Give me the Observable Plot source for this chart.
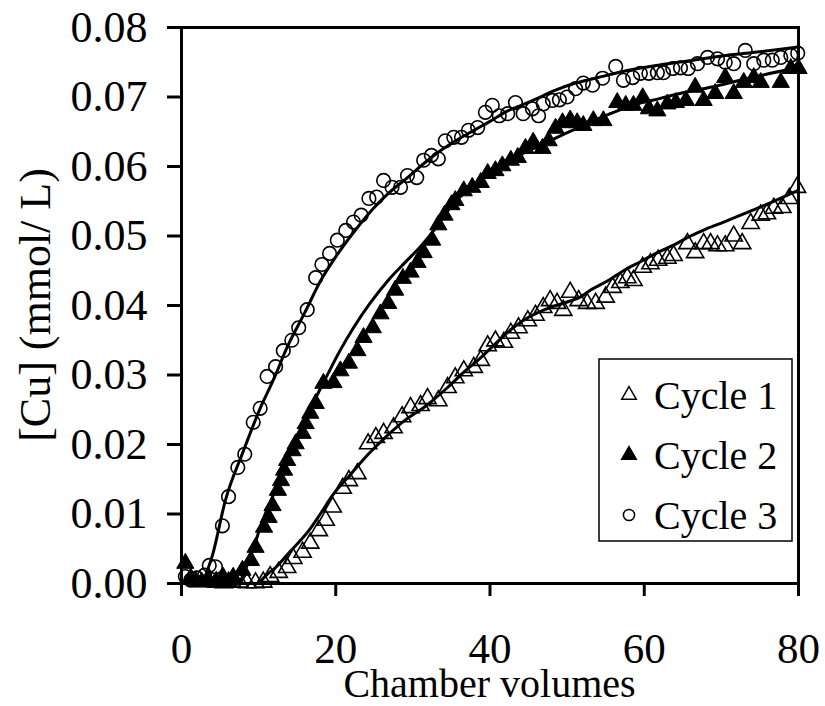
<!DOCTYPE html>
<html><head><meta charset="utf-8">
<script src="https://cdn.jsdelivr.net/npm/d3@7"></script>
<script src="https://cdn.jsdelivr.net/npm/@observablehq/plot@0.6"></script>
<style>
body{margin:0;background:#fff;}
#chart{width:825px;height:706px;}
</style>
</head><body><div id="chart"></div>
<script>
// ---- data (chamber volumes, [Cu] mmol/L) ----
const seriesNames = ["Cycle 1", "Cycle 2", "Cycle 3"];
const xTicks = [0, 20, 40, 60, 80];
const yTicks = [0, 0.01, 0.02, 0.03, 0.04, 0.05, 0.06, 0.07, 0.08];

const cycle1V = [4.5,5.5,6.5,7.5,8.5,9.6,10.6,11.5,12.6,13.7,14.5,15.7,16.7,17.8,18.7,19.6,20.9,21.7,22.8,24.2,25.2,26.2,27.5,28.6,29.7,31.0,31.9,33.3,34.5,35.5,36.6,37.9,38.8,39.7,40.7,41.8,42.7,43.7,44.9,45.9,46.9,47.8,48.7,49.5,50.4,51.5,52.6,53.7,55.0,55.9,56.9,57.8,58.6,59.8,60.8,61.8,63.0,63.8,65.6,66.6,67.7,68.6,69.5,70.5,71.6,72.7,73.8,75.1,75.9,76.8,77.9,78.8,79.8];
const cycle1C = [0.0002,0.0001,0.0003,0.0002,0.0001,0.0001,0.0002,0.0010,0.0016,0.0023,0.0036,0.0045,0.0058,0.0076,0.0091,0.0110,0.0137,0.0148,0.0158,0.0201,0.0210,0.0216,0.0224,0.0240,0.0253,0.0256,0.0266,0.0263,0.0282,0.0296,0.0306,0.0311,0.0321,0.0342,0.0349,0.0347,0.0360,0.0368,0.0378,0.0386,0.0397,0.0407,0.0403,0.0393,0.0419,0.0407,0.0403,0.0403,0.0412,0.0426,0.0433,0.0440,0.0436,0.0455,0.0460,0.0465,0.0468,0.0472,0.0489,0.0476,0.0489,0.0489,0.0486,0.0486,0.0500,0.0489,0.0518,0.0530,0.0532,0.0540,0.0541,0.0554,0.0570];

const cycle2V = [0.5,1.2,1.8,2.6,3.5,4.4,5.4,6.1,6.7,7.9,9.0,9.6,10.7,11.3,11.8,12.5,12.9,13.3,13.7,14.4,14.8,15.7,16.1,16.7,17.4,18.4,19.7,20.6,21.7,22.8,23.6,24.8,25.8,26.8,27.7,28.7,29.7,30.6,31.4,32.5,33.3,34.1,35.0,35.5,36.6,37.7,38.8,39.7,40.7,41.6,42.7,43.6,44.6,45.6,46.8,47.6,48.5,49.4,50.4,51.3,52.1,53.4,54.7,56.5,57.6,58.6,59.8,60.6,61.7,63.0,64.1,65.4,66.6,67.7,69.2,70.5,71.6,72.9,74.2,75.1,77.7,79.0,80.0];
const cycle2C = [0.0029,0.0008,0.0004,0.0002,0.0004,0.0002,0.0009,0.0003,0.0009,0.0019,0.0033,0.0052,0.0081,0.0095,0.0112,0.0134,0.0148,0.0163,0.0177,0.0191,0.0201,0.0216,0.0230,0.0245,0.0259,0.0288,0.0289,0.0306,0.0317,0.0335,0.0354,0.0368,0.0388,0.0403,0.0422,0.0439,0.0448,0.0462,0.0476,0.0494,0.0516,0.0530,0.0545,0.0551,0.0565,0.0570,0.0577,0.0590,0.0594,0.0601,0.0609,0.0613,0.0626,0.0635,0.0626,0.0637,0.0655,0.0663,0.0667,0.0663,0.0659,0.0666,0.0666,0.0692,0.0688,0.0688,0.0699,0.0683,0.0680,0.0690,0.0692,0.0695,0.0714,0.0695,0.0705,0.0728,0.0705,0.0721,0.0728,0.0721,0.0721,0.0741,0.0741];

const cycle3V = [0.5,1.2,2.0,3.0,3.6,4.4,5.3,6.1,7.3,8.2,9.3,10.2,11.1,12.2,13.2,14.3,15.2,16.3,17.4,18.2,19.2,20.2,21.3,22.3,23.3,24.3,25.3,26.2,27.3,28.4,29.3,30.5,31.4,32.4,33.3,34.2,35.3,36.3,37.2,38.4,39.4,40.3,41.2,42.3,43.3,44.3,45.5,46.3,46.9,48.1,49.0,50.0,51.1,52.1,53.3,54.6,56.3,57.3,58.5,59.5,60.6,61.7,62.5,63.7,64.7,65.7,66.9,68.2,69.5,70.5,71.6,73.1,74.2,75.5,76.6,77.7,79.0,79.9];
const cycle3C = [0.0010,0.0005,0.0008,0.0012,0.0026,0.0024,0.0083,0.0125,0.0167,0.0186,0.0232,0.0252,0.0298,0.0312,0.0335,0.0350,0.0368,0.0394,0.0440,0.0459,0.0475,0.0494,0.0508,0.0520,0.0530,0.0554,0.0556,0.0580,0.0570,0.0570,0.0587,0.0584,0.0609,0.0616,0.0611,0.0637,0.0642,0.0642,0.0652,0.0656,0.0678,0.0688,0.0673,0.0676,0.0692,0.0676,0.0683,0.0673,0.0690,0.0695,0.0696,0.0700,0.0712,0.0720,0.0717,0.0727,0.0744,0.0724,0.0728,0.0734,0.0734,0.0735,0.0735,0.0741,0.0742,0.0741,0.0748,0.0757,0.0755,0.0750,0.0748,0.0767,0.0748,0.0753,0.0753,0.0757,0.0760,0.0763];

// fitted model curves
const fit1V = [10,11,12.2,14,16.5,18,19.6,22,24.3,26.5,29,31.5,34.5,36.5,38.8,41,43,45,47.5,50,51.7,53,55.5,57.3,59.5,61.7,64,66,68,70.3,72.5,74.7,77,79,80];
const fit1C = [0,0.0012,0.0023,0.0045,0.0076,0.0100,0.0127,0.0158,0.0187,0.0211,0.0235,0.0254,0.0282,0.0303,0.0325,0.0348,0.0368,0.0383,0.0396,0.0405,0.0412,0.0422,0.0437,0.0450,0.0463,0.0476,0.0488,0.0500,0.0510,0.0520,0.0530,0.0540,0.0551,0.0561,0.0566];
const fit2V = [7.5,9,10.5,12,13.5,15.5,17.2,19,20.5,22.3,24.5,26.7,29,31,33,35,37.5,40,42,44.3,46.5,48.7,51.7,55.6,58.5,62.1,65,68.6,72,75.1,80];
const fit2C = [0,0.004,0.009,0.013,0.0173,0.0218,0.0262,0.0302,0.0334,0.0368,0.0404,0.0435,0.0462,0.0485,0.0512,0.0543,0.0570,0.0590,0.0605,0.0619,0.0630,0.0642,0.0657,0.0676,0.0688,0.0698,0.0706,0.0714,0.0723,0.0731,0.0742];
const fit3V = [2.7,4,5.7,8,10.2,12,13.7,16,18,20,22.3,24.9,27,29.3,31.5,33.6,36,37.9,40,42.3,44.5,46.5,48.5,50.8,54,57.8,62,66.4,70,75,80];
const fit3C = [0,0.004,0.012,0.019,0.0252,0.0295,0.0340,0.0390,0.0435,0.0470,0.0505,0.0540,0.0563,0.0584,0.0605,0.0623,0.0640,0.0652,0.0665,0.0680,0.0690,0.0700,0.0710,0.0719,0.0728,0.0738,0.0746,0.0753,0.0759,0.0765,0.0772];

// ---- build tables ----
const zip = (vs, cs) => vs.map((v, i) => ({v, c: cs[i]}));
const pts1 = zip(cycle1V, cycle1C), pts2 = zip(cycle2V, cycle2C), pts3 = zip(cycle3V, cycle3C);
const fits = [zip(fit1V, fit1C), zip(fit2V, fit2C), zip(fit3V, fit3C)];

const W = 825, H = 706, mL = 181, mR = 27, mT = 27, mB = 123;
const FONT = "'Liberation Serif','Times New Roman',Times,serif";
const rTri = 6.4, rCirc = 6.8;

const plot = Plot.plot({
  width: W, height: H,
  marginLeft: mL, marginRight: mR, marginTop: mT, marginBottom: mB,
  style: {fontFamily: FONT, background: "#fff", color: "#000", overflow: "visible"},
  x: {domain: [0, 80]},
  y: {domain: [0, 0.08]},
  marks: [
    Plot.axisX({ticks: xTicks, tickSize: 13, tickPadding: 36, fontSize: 43, strokeWidth: 3, label: null, tickFormat: d => String(d)}),
    Plot.axisY({ticks: yTicks, tickSize: 14, tickPadding: 20, fontSize: 44, strokeWidth: 3, label: null, tickFormat: d => d.toFixed(2)}),
    ...fits.map(f => Plot.line(f, {x: "v", y: "c", stroke: "#000", strokeWidth: 3, curve: "monotone-x"})),
    Plot.dot(pts1, {x: "v", y: "c", symbol: "triangle", r: rTri, stroke: "#000", fill: "none", strokeWidth: 1.6}),
    Plot.dot(pts2, {x: "v", y: "c", symbol: "triangle", r: rTri, stroke: "#000", fill: "#000", strokeWidth: 1}),
    Plot.dot(pts3, {x: "v", y: "c", symbol: "circle", r: rCirc, stroke: "#000", fill: "none", strokeWidth: 1.6}),
    Plot.frame({stroke: "#000", strokeWidth: 3})
  ]
});

const svg = d3.select(plot);
// axis titles
svg.append("text")
  .attr("x", (mL + W - mR) / 2).attr("y", 697)
  .attr("text-anchor", "middle").attr("font-family", FONT).attr("font-size", 40)
  .attr("fill", "#000").text("Chamber volumes");
svg.append("text")
  .attr("transform", "translate(50," + ((mT + H - mB) / 2) + ") rotate(-90)")
  .attr("text-anchor", "middle").attr("font-family", FONT).attr("font-size", 44)
  .attr("fill", "#000").text("[Cu] (mmol/ L)");

// legend
const lg = svg.append("g");
lg.append("rect").attr("x", 599).attr("y", 359).attr("width", 193).attr("height", 182)
  .attr("fill", "#fff").attr("stroke", "#000").attr("stroke-width", 1.5);
const legendItems = [
  {name: seriesNames[0], sym: d3.symbolTriangle, r: 5.4, fill: "none"},
  {name: seriesNames[1], sym: d3.symbolTriangle, r: 5.4, fill: "#000"},
  {name: seriesNames[2], sym: d3.symbolCircle, r: 5.6, fill: "none"}
];
legendItems.forEach((it, i) => {
  const cy = 395 + i * 60;
  lg.append("path").attr("d", d3.symbol(it.sym, it.r * it.r * Math.PI)())
    .attr("transform", `translate(629,${cy})`)
    .attr("fill", it.fill).attr("stroke", "#000").attr("stroke-width", 1.5);
  lg.append("text").attr("x", 654).attr("y", cy + 14).attr("text-anchor", "start")
    .attr("font-family", FONT).attr("font-size", 40).attr("fill", "#000").text(it.name);
});

document.getElementById("chart").appendChild(plot);
</script>
</body></html>
